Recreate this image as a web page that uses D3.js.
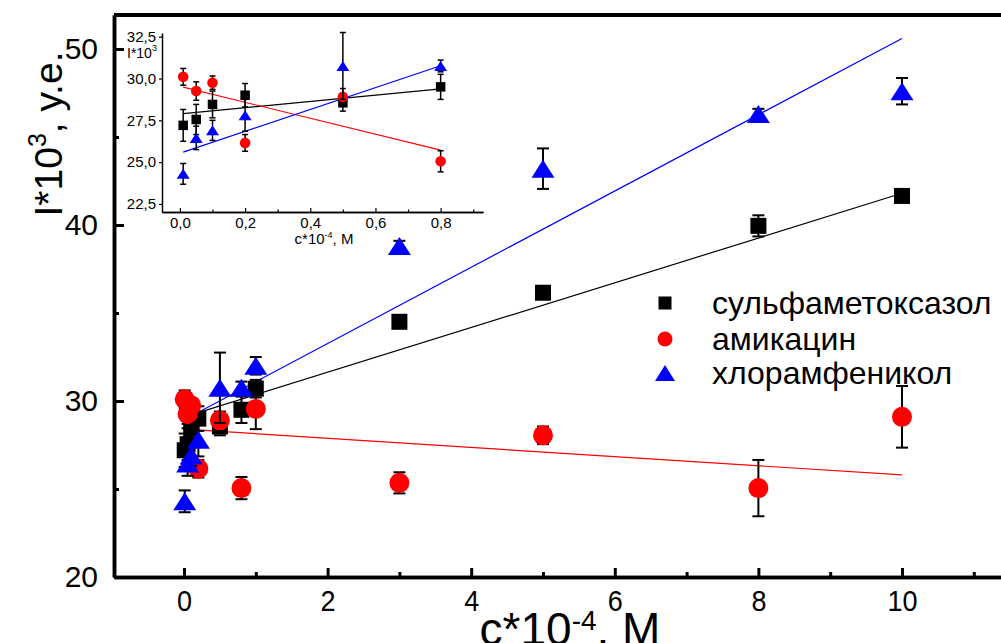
<!DOCTYPE html>
<html>
<head>
<meta charset="utf-8">
<script src="https://cdn.jsdelivr.net/npm/d3@7"></script>
<style>
body { margin: 0; background: #fff; }
svg { display: block; }
text { font-family: "Liberation Sans", Arial, sans-serif; fill: #000; }
</style>
</head>
<body>
<svg width="1001" height="643"></svg>
<script>
// concentration, c*10^-4 M
var conc = [0.01, 0.05, 0.1, 0.2, 0.5, 0.8, 1, 3, 5, 8, 10];

var sulfa    = [27.2, 27.55, 28.45, 29.0, 28.55, 29.5, 30.7, 34.5, 36.15, 39.95, 41.65];
var sulfaErr = [0.95, 0.9, 0.8, 0.7, 0.5, 0.75, 0.5, 0.2, 0.2, 0.6, 0.15];
var amik     = [30.1, 29.25, 29.75, 26.15, 28.9, 25.05, 29.55, 25.35, 28.05, 25.05, 29.1];
var amikErr  = [0.5, 0.55, 0.4, 0.5, 0.5, 0.63, 1.15, 0.6, 0.5, 1.6, 1.75];
var chlor    = [24.3, 26.45, 26.9, 27.8, 30.75, 30.75, 32.0, 38.8, 43.2, 46.3, 47.6];
var chlorErr = [0.62, 0.7, 0.6, 0.95, 2.0, 0.35, 0.5, 0.3, 1.15, 0.3, 0.75];

var names = ["сульфаметоксазол", "амикацин", "хлорамфеникол"];

// linear fits, end points
var fitX = [0.01, 10];
var fitSulfa = [29.1, 41.8];
var fitAmik = [28.4, 25.8];
var fitChlor = [28.95, 50.6];
var insetFitX = [0.01, 0.8];
var insetFitSulfa = [27.9, 29.38];
var insetFitAmik = [29.48, 25.72];
var insetFitChlor = [25.6, 30.76];

var xTicks = [0, 2, 4, 6, 8, 10];
var xMinor = [1, 3, 5, 7, 9, 11];
var yTicks = [20, 30, 40, 50];
var yMinor = [25, 35, 45];
var insetXTicks = [0, 0.2, 0.4, 0.6, 0.8];
var insetXMinor = [0.1, 0.3, 0.5, 0.7, 0.9];
var insetYTicks = [22.5, 25, 27.5, 30, 32.5];

var series = [
  {name: names[0], color: "#000", shape: "square", y: sulfa, err: sulfaErr, fit: fitSulfa, insetFit: insetFitSulfa},
  {name: names[1], color: "#ff0000", shape: "circle", y: amik, err: amikErr, fit: fitAmik, insetFit: insetFitAmik},
  {name: names[2], color: "#0000ff", shape: "triangle", y: chlor, err: chlorErr, fit: fitChlor, insetFit: insetFitChlor}
];

var svg = d3.select("svg");

function marker(sel, shape, sz, color) {
  // sz = {sq, r, tw, th}
  if (shape === "square") {
    sel.append("rect").attr("x", -sz.sq / 2).attr("y", -sz.sq / 2)
      .attr("width", sz.sq).attr("height", sz.sq).attr("fill", color);
  } else if (shape === "circle") {
    sel.append("circle").attr("r", sz.r).attr("fill", color);
  } else {
    sel.append("path")
      .attr("d", "M0," + (-sz.th / 2) + "L" + (sz.tw / 2) + "," + (sz.th / 2) + "L" + (-sz.tw / 2) + "," + (sz.th / 2) + "Z")
      .attr("fill", color);
  }
}

function drawSeries(g, x, y, n, sz, cap, ew) {
  series.forEach(function(s) {
    var pts = conc.slice(0, n).map(function(c, i) { return {x: c, y: s.y[i], e: s.err[i]}; });
    var eb = g.append("g").attr("stroke", "#000").attr("stroke-width", ew);
    pts.forEach(function(p) {
      var px = x(p.x);
      eb.append("line").attr("x1", px).attr("x2", px).attr("y1", y(p.y - p.e)).attr("y2", y(p.y + p.e));
      eb.append("line").attr("x1", px - cap).attr("x2", px + cap).attr("y1", y(p.y + p.e)).attr("y2", y(p.y + p.e));
      eb.append("line").attr("x1", px - cap).attr("x2", px + cap).attr("y1", y(p.y - p.e)).attr("y2", y(p.y - p.e));
    });
    g.selectAll(null).data(pts).enter().append("g")
      .attr("transform", function(p) { return "translate(" + x(p.x) + "," + y(p.y) + ")"; })
      .each(function() { marker(d3.select(this), s.shape, sz, s.color); });
  });
}

function drawFits(g, x, y, xs, key) {
  var line = d3.line().x(function(d) { return x(d[0]); }).y(function(d) { return y(d[1]); });
  series.forEach(function(s) {
    g.append("path").datum(xs.map(function(v, i) { return [v, s[key][i]]; }))
      .attr("d", line).attr("fill", "none").attr("stroke", s.color).attr("stroke-width", 1.2);
  });
}

// ---------- main plot ----------
var x = d3.scaleLinear().domain([-0.975, 11.4]).range([114, 1002.5]);
var y = d3.scaleLinear().domain([20, 51.93]).range([577, 15]);

var main = svg.append("g");
drawFits(main, x, y, fitX, "fit");
drawSeries(main, x, y, conc.length, {sq: 16, r: 10, tw: 23, th: 18}, 6, 2);

// frame top line
main.append("line").attr("x1", 114).attr("x2", 1001).attr("y1", y(51.93)).attr("y2", y(51.93))
  .attr("stroke", "#000").attr("stroke-width", 4);

var xAxis = main.append("g").attr("transform", "translate(0,577)")
  .call(d3.axisBottom(x).tickValues(xTicks).tickSize(-9).tickSizeOuter(0).tickPadding(13));
main.append("g").attr("transform", "translate(0,577)")
  .call(d3.axisBottom(x).tickValues(xMinor).tickSize(-5).tickSizeOuter(0).tickFormat(""));
var yAxis = main.append("g").attr("transform", "translate(114,0)")
  .call(d3.axisLeft(y).tickValues(yTicks).tickSize(-10).tickSizeOuter(0).tickPadding(16));
main.append("g").attr("transform", "translate(114,0)")
  .call(d3.axisLeft(y).tickValues(yMinor).tickSize(-5).tickSizeOuter(0).tickFormat(""));

main.selectAll(".domain").attr("stroke-width", 3.5);
main.selectAll(".tick line").attr("stroke-width", 3);
xAxis.selectAll("text").attr("font-size", 30).attr("transform", "scale(0.9,1)");
yAxis.selectAll("text").attr("font-size", 30);

// axis titles
var yt = main.append("text").attr("transform", "translate(62,134) rotate(-90)")
  .attr("text-anchor", "middle").attr("font-size", 39);
yt.append("tspan").text("I*10");
yt.append("tspan").attr("font-size", 25).attr("dy", -16).text("3");
yt.append("tspan").attr("dy", 16).text(", y.e.");

var xt = main.append("text").attr("x", 570).attr("y", 645)
  .attr("text-anchor", "middle").attr("font-size", 46);
xt.append("tspan").text("c*10");
xt.append("tspan").attr("font-size", 28).attr("dy", -15).text("-4");
xt.append("tspan").attr("dy", 15).text(", M");

// legend
var legend = main.append("g");
var legY = [303, 339, 373];
series.forEach(function(s, i) {
  var row = legend.append("g").attr("transform", "translate(665," + legY[i] + ")");
  marker(row, s.shape, {sq: 13, r: 7.5, tw: 20, th: 16}, s.color);
  row.append("text").attr("x", 47).attr("y", 11).attr("font-size", 32).text(s.name);
});

// ---------- inset ----------
var ix = d3.scaleLinear().domain([-0.055, 0.93]).range([162, 483]);
var iy = d3.scaleLinear().domain([22.02, 32.72]).range([212, 33]);
var inset = svg.append("g");
drawFits(inset, ix, iy, insetFitX, "insetFit");
drawSeries(inset, ix, iy, 6, {sq: 9.5, r: 5.3, tw: 13, th: 10}, 3, 1.5);

var comma = function(d) { return d3.format(".1f")(d).replace(".", ","); };
var ixAxis = inset.append("g").attr("transform", "translate(0,212)")
  .call(d3.axisBottom(ix).tickValues(insetXTicks).tickSize(-4).tickSizeOuter(0).tickPadding(5).tickFormat(comma));
inset.append("g").attr("transform", "translate(0,212)")
  .call(d3.axisBottom(ix).tickValues(insetXMinor).tickSize(-2.5).tickSizeOuter(0).tickFormat(""));
var iyAxis = inset.append("g").attr("transform", "translate(162,0)")
  .call(d3.axisLeft(iy).tickValues(insetYTicks).tickSize(3).tickSizeOuter(0).tickPadding(3).tickFormat(comma));
inset.selectAll(".domain").attr("stroke-width", 1.5);
inset.selectAll(".tick line").attr("stroke-width", 1.2);
ixAxis.selectAll("text").attr("font-size", 15);
iyAxis.selectAll("text").attr("font-size", 15);

var iyt = inset.append("text").attr("x", 127).attr("y", 58).attr("font-size", 14);
iyt.append("tspan").text("I*10");
iyt.append("tspan").attr("font-size", 9).attr("dy", -7).text("3");

var ixt = inset.append("text").attr("x", 324).attr("y", 244).attr("text-anchor", "middle").attr("font-size", 15);
ixt.append("tspan").text("c*10");
ixt.append("tspan").attr("font-size", 9).attr("dy", -6).text("-4");
ixt.append("tspan").attr("dy", 6).text(", M");
</script>
</body>
</html>
